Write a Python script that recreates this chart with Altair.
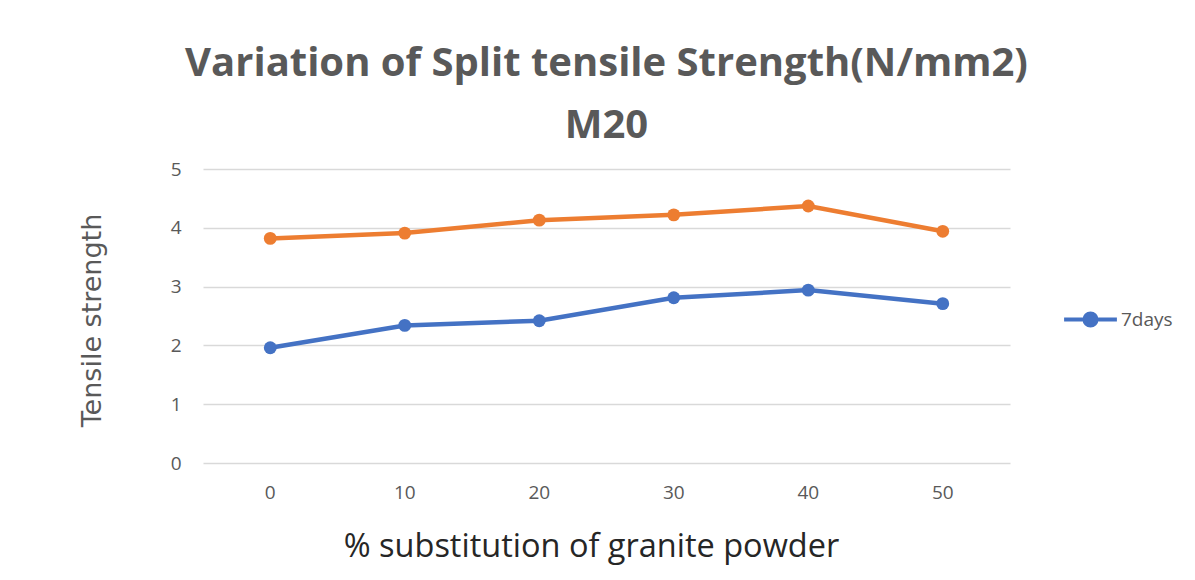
import altair as alt
import pandas as pd

categories = ["0", "10", "20", "30", "40", "50"]
days7 = [1.96, 2.34, 2.42, 2.81, 2.94, 2.71]
days28 = [3.82, 3.91, 4.13, 4.22, 4.37, 3.94]

df7 = pd.DataFrame({"sub": categories, "val": days7, "series": "7days"})
df28 = pd.DataFrame({"sub": categories, "val": days28, "series": "28days"})

W, H = 807, 294
GRAY = "#595959"

x_enc = alt.X(
    "sub:O",
    sort=categories,
    scale=alt.Scale(type="band", paddingInner=0, paddingOuter=0),
    axis=alt.Axis(
        title="% substitution of granite powder",
        titleFont="Open Sans",
        titleFontSize=32.5,
        titleFontWeight="normal",
        titleColor="#262626",
        titleX=388,
        titleY=83,
        titleAlign="center",
        titleBaseline="middle",
        labelAngle=0,
        labelFont="Open Sans",
        labelFontSize=19,
        labelColor=GRAY,
        labelPadding=20,
        ticks=False,
        domain=False,
        grid=False,
    ),
)
y_enc = alt.Y(
    "val:Q",
    scale=alt.Scale(domain=[0, 5], nice=False, zero=True),
    axis=alt.Axis(
        values=[0, 1, 2, 3, 4, 5],
        title="Tensile  strength",
        titleFont="DejaVu Sans",
        titleFontSize=27,
        titleFontWeight="normal",
        titleColor=GRAY,
        titleX=-111,
        titleY=151,
        titleAngle=-90,
        titleAlign="center",
        titleBaseline="middle",
        labelFont="Open Sans",
        labelFontSize=19,
        labelColor=GRAY,
        labelPadding=22,
        ticks=False,
        domain=False,
        grid=True,
        gridColor="#D9D9D9",
        gridWidth=1.3,
    ),
)

blue = alt.Chart(df7).mark_line(
    strokeWidth=4.5,
    point=alt.OverlayMarkDef(size=165, filled=True, opacity=1),
).encode(
    x=x_enc,
    y=y_enc,
    color=alt.Color(
        "series:N",
        scale=alt.Scale(domain=["7days"], range=["#4472C4"]),
        legend=alt.Legend(
            title=None,
            orient="none",
            legendX=878,
            legendY=141,
            symbolType="M-4.4,0L4.4,0M-1,0A1,1,0,1,0,1,0A1,1,0,1,0,-1,0Z",
            symbolSize=144,
            symbolStrokeWidth=4,
            symbolFillColor="#4472C4",
            labelOffset=21,
            labelFont="Open Sans",
            labelFontSize=19,
            labelColor=GRAY,
        ),
    ),
)

orange = alt.Chart(df28).mark_line(
    strokeWidth=4.5,
    color="#ED7D31",
    point=alt.OverlayMarkDef(size=165, filled=True, opacity=1, color="#ED7D31"),
).encode(x=x_enc, y=y_enc)

chart = (
    alt.layer(orange, blue)
    .properties(
        width=W,
        height=H,
        title=alt.TitleParams(
            text=["Variation of Split tensile Strength(N/mm2)", "M20"],
            font="Open Sans",
            fontSize=40,
            fontWeight="bold",
            color=GRAY,
            anchor="middle",
            lineHeight=62,
            offset=14,
        ),
        autosize=alt.AutoSizeParams(type="none"),
        padding={"left": 195, "top": 161, "right": 177, "bottom": 109},
    )
    .configure(background="white")
    .configure_view(stroke=None, strokeWidth=0)
)

chart.save("out.html", embed_options={"renderer": "svg", "actions": False})
